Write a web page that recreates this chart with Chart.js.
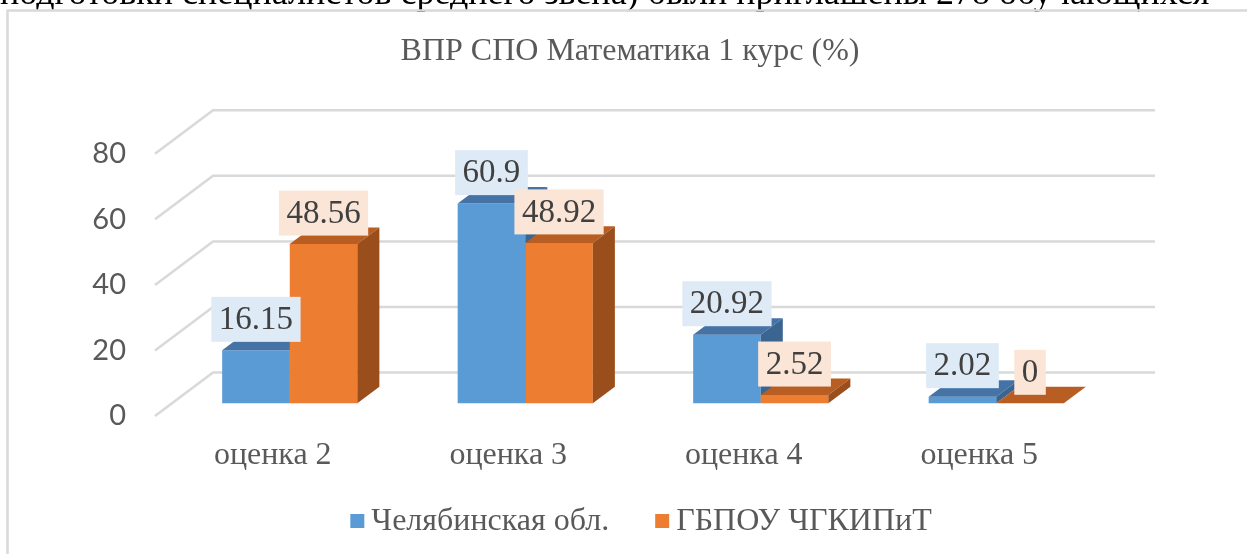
<!DOCTYPE html>
<html>
<head>
<meta charset="utf-8">
<script src="https://cdn.jsdelivr.net/npm/chart.js@4.4.1/dist/chart.umd.min.js"></script>
<style>
html, body { margin: 0; padding: 0; background: #fff; }
</style>
</head>
<body>
<canvas id="chart" width="1247" height="554"></canvas>
<script>
// data
var docLine = "подготовки специалистов среднего звена) были приглашены 278 обучающихся"
var chartTitle = "ВПР СПО Математика 1 курс (%)"
var categories = ["оценка 2", "оценка 3", "оценка 4", "оценка 5"]
var seriesNames = ["Челябинская обл.", "ГБПОУ ЧГКИПиТ"]
var regionValues = [16.15, 60.9, 20.92, 2.02]
var collegeValues = [48.56, 48.92, 2.52, 0]
var yTicks = [0, 20, 40, 60, 80]

var serif = "'Liberation Serif', 'Times New Roman', serif"
var grey = "#595959"
var gridColor = "#d9d9d9"
// oblique depth of the floor, and where the bars stand inside it
var depth = { dx: 58, dy: -43.5 }
var frontAt = 0.293
var barDepth = 0.38

function shade(ctx, pts, color) {
	ctx.beginPath()
	ctx.moveTo(pts[0][0], pts[0][1])
	for (var i = 1; i < pts.length; i++) ctx.lineTo(pts[i][0], pts[i][1])
	ctx.closePath()
	ctx.fillStyle = color
	ctx.fill()
}

function barBox(bar) {
	var p = bar.getProps(["x", "y", "base", "width"], true)
	return { l: p.x - p.width / 2, r: p.x + p.width / 2, t: p.y, b: p.base, cx: p.x }
}

var excel3d = {
	id: "excel3d",
	beforeDraw: function(chart) {
		var ctx = chart.ctx
		ctx.save()
		ctx.fillStyle = "#fff"
		ctx.fillRect(0, 0, chart.width, chart.height)
		// end of the document line above the chart
		ctx.font = "36px " + serif
		ctx.fillStyle = "#000"
		ctx.textAlign = "left"
		ctx.textBaseline = "alphabetic"
		ctx.fillText(docLine, 0, 4)
		// chart frame
		ctx.strokeStyle = gridColor
		ctx.lineWidth = 2.5
		ctx.beginPath()
		ctx.moveTo(7.5, chart.height + 5)
		ctx.lineTo(7.5, 10.5)
		ctx.lineTo(chart.width + 5, 10.5)
		ctx.stroke()
		// title
		ctx.font = "32px " + serif
		ctx.fillStyle = grey
		ctx.textAlign = "center"
		ctx.fillText(chartTitle, 630, 60)
		ctx.restore()
	},
	beforeDatasetsDraw: function(chart) {
		var ctx = chart.ctx, y = chart.scales.y, a = chart.chartArea
		var fx = -frontAt * depth.dx, fy = -frontAt * depth.dy
		var bx = (1 - frontAt) * depth.dx, by = (1 - frontAt) * depth.dy
		ctx.save()
		ctx.strokeStyle = gridColor
		ctx.lineWidth = 2.5
		y.ticks.forEach(function(t) {
			var py = y.getPixelForValue(t.value)
			ctx.beginPath()
			ctx.moveTo(a.left + fx, py + fy)
			ctx.lineTo(a.left + bx, py + by)
			ctx.lineTo(a.right + bx, py + by)
			ctx.stroke()
		})
		ctx.restore()
	},
	// bars are painted below, series by series, so that the front of the
	// second series covers the side of the first
	beforeDatasetDraw: function() { return false },
	afterDatasetsDraw: function(chart) {
		var ctx = chart.ctx
		var dx = barDepth * depth.dx, dy = barDepth * depth.dy
		ctx.save()
		chart.data.datasets.forEach(function(ds, di) {
			chart.getDatasetMeta(di).data.forEach(function(bar) {
				bar.draw(ctx, chart.chartArea)
				var q = barBox(bar)
				shade(ctx, [[q.l, q.t], [q.r, q.t], [q.r + dx, q.t + dy], [q.l + dx, q.t + dy]], ds.topColor)
				shade(ctx, [[q.r, q.t], [q.r + dx, q.t + dy], [q.r + dx, q.b + dy], [q.r, q.b]], ds.sideColor)
			})
		})
		// value labels
		ctx.font = "33px " + serif
		ctx.textAlign = "center"
		ctx.textBaseline = "middle"
		chart.data.datasets.forEach(function(ds, di) {
			chart.getDatasetMeta(di).data.forEach(function(bar, i) {
				var q = barBox(bar)
				var txt = String(ds.data[i])
				var w = ctx.measureText(txt).width + 15
				var h = 45
				var bottom = q.t - 8.5
				ctx.fillStyle = ds.labelFill
				ctx.fillRect(q.cx - w / 2, bottom - h, w, h)
				ctx.fillStyle = "#404040"
				ctx.fillText(txt, q.cx, bottom - h / 2 + 1)
			})
		})
		// legend
		ctx.font = "32px " + serif
		var sq = 14, gap = 7, between = 46
		var widths = chart.data.datasets.map(function(ds) { return ctx.measureText(ds.label).width })
		var total = widths.reduce(function(s, w) { return s + sq + gap + w }, 0) + between * (widths.length - 1)
		var x = 641 - total / 2, cy = 521
		ctx.textAlign = "left"
		chart.data.datasets.forEach(function(ds, di) {
			ctx.fillStyle = ds.backgroundColor
			ctx.fillRect(x, cy - sq / 2, sq, sq)
			ctx.fillStyle = grey
			ctx.fillText(ds.label, x + sq + gap, cy + 1)
			x += sq + gap + widths[di] + between
		})
		ctx.restore()
	}
}

new Chart(document.getElementById("chart"), {
	type: "bar",
	data: {
		labels: categories,
		datasets: [{
			label: seriesNames[0],
			data: regionValues,
			backgroundColor: "#5B9BD5",
			topColor: "#4573A6",
			sideColor: "#3B6591",
			labelFill: "#DEEBF7"
		}, {
			label: seriesNames[1],
			data: collegeValues,
			backgroundColor: "#ED7D31",
			topColor: "#B85E22",
			sideColor: "#9A4E1C",
			labelFill: "#FBE5D6"
		}]
	},
	options: {
		responsive: false,
		animation: false,
		devicePixelRatio: 1,
		layout: { padding: { left: 0, right: 133, top: 141, bottom: 50.7 } },
		datasets: { bar: { barPercentage: 1, categoryPercentage: 0.574 } },
		plugins: { legend: { display: false }, title: { display: false }, tooltip: { enabled: false } },
		scales: {
			x: {
				grid: { display: false },
				border: { display: false },
				ticks: {
					font: { family: serif, size: 32, lineHeight: 1.2 },
					color: grey,
					padding: 25.5,
					labelOffset: -frontAt * depth.dx,
					maxRotation: 0
				},
				afterFit: function(s) { s.height = 100 }
			},
			y: {
				min: yTicks[0],
				max: yTicks[yTicks.length - 1],
				grid: { display: false },
				border: { display: false },
				afterBuildTicks: function(s) { s.ticks = yTicks.map(function(v) { return { value: v } }) },
				ticks: {
					font: { family: "Lato, 'Liberation Sans', sans-serif", size: 29 },
					color: grey,
					padding: 38,
					labelOffset: -frontAt * depth.dy
				},
				afterFit: function(s) { s.width = 172 }
			}
		}
	},
	plugins: [excel3d]
})
</script>
</body>
</html>
